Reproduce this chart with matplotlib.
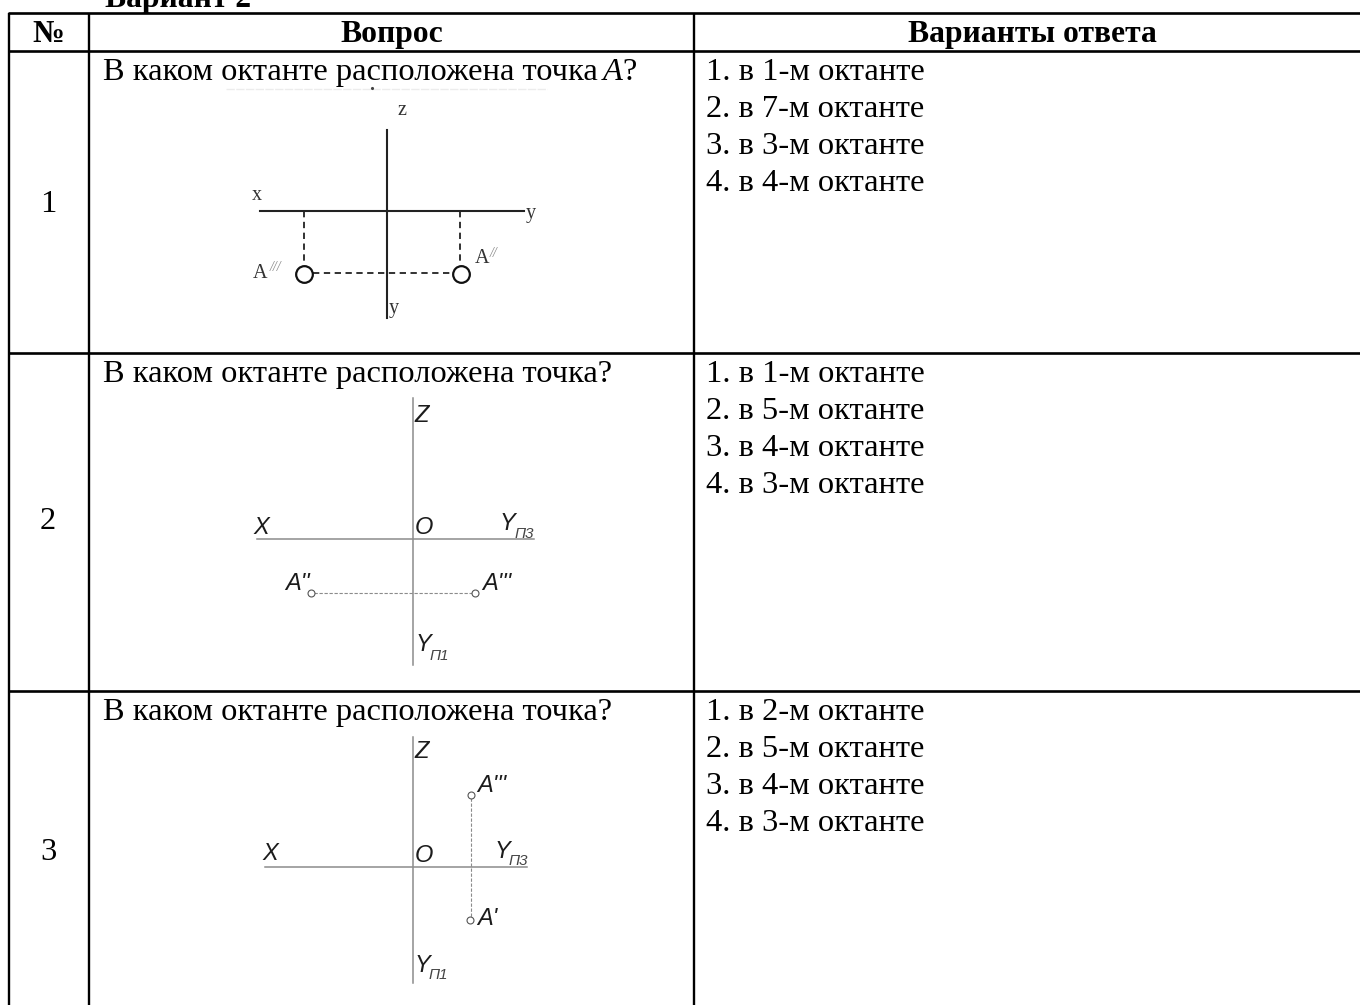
import matplotlib
matplotlib.use("Agg")
import matplotlib.pyplot as plt

W, H = 1360, 1005
plt.rcParams['font.family'] = ['Liberation Serif', 'DejaVu Serif']

title = "Вариант 2"
headers = ["№", "Вопрос", "Варианты ответа"]
numbers = ["1", "2", "3"]
questions = ["В каком октанте расположена точка", "В каком октанте расположена точка?", "В каком октанте расположена точка?"]
answers = [
    ["1. в 1-м октанте", "2. в 7-м октанте", "3. в 3-м октанте", "4. в 4-м октанте"],
    ["1. в 1-м октанте", "2. в 5-м октанте", "3. в 4-м октанте", "4. в 3-м октанте"],
    ["1. в 2-м октанте", "2. в 5-м октанте", "3. в 4-м октанте", "4. в 3-м октанте"],
]
row_lines = [12.5, 50.5, 352.5, 690.5]
col_lines = [9, 89, 694]
row_tops = [51, 353, 691]
row_centers = [203, 520, 851]

fig = plt.figure(figsize=(W/100, H/100), dpi=100)
ax = fig.add_axes([0, 0, 1, 1])
ax.set_xlim(0, W); ax.set_ylim(H, 0); ax.axis('off')
FS = 23.4
FB = 22.8

for y in row_lines:
    ax.plot([col_lines[0] - 1, W], [y, y], color='black', lw=1.9, solid_capstyle='butt')
for x in col_lines:
    ax.plot([x, x], [row_lines[0], H], color='black', lw=1.7, solid_capstyle='butt')

ax.text(105, 7, title, fontsize=FB, fontweight='bold', va='baseline', ha='left')
ax.text(48, 42, headers[0], fontsize=FB, fontweight='bold', va='baseline', ha='center')
ax.text(392, 42, headers[1], fontsize=FB, fontweight='bold', va='baseline', ha='center')
ax.text(1032, 42, headers[2], fontsize=FB, fontweight='bold', va='baseline', ha='center')

for n, q, a, top, c in zip(numbers, questions, answers, row_tops, row_centers):
    ax.text(48, c + 9, n, fontsize=FS, va='baseline', ha='center')
    ax.text(103, top + 29, q, fontsize=FS, va='baseline', ha='left')
    for i, line in enumerate(a):
        ax.text(706, top + 29 + i*36.9, line, fontsize=FS, va='baseline', ha='left')
ax.text(603, row_tops[0] + 29, "A", fontsize=FS, style='italic', va='baseline', ha='left')
ax.text(622, row_tops[0] + 29, "?", fontsize=FS, va='baseline', ha='left')

# faint scan artefact under the first question
artefact_line = ([226, 547], [88.5, 88.5])
artefact_dot = (372, 87.5)
ax.plot(*artefact_line, color='#ececec', lw=1.0, ls=(0, (6, 1)))
ax.plot([artefact_dot[0]], [artefact_dot[1]], '.', ms=2.5, color='#444444')

# diagram 1
d1_axes = [([387, 387], [130, 318]), ([260, 524], [211, 211])]
d1_dash = [([304, 304], [211, 265]), ([460, 460], [211, 265]), ([313, 452], [273, 273])]
d1_pts = [(304, 274), (461, 274)]
d1_labels = [("z", 402, 110), ("x", 257, 195), ("y", 531, 213), ("A", 260, 273), ("A", 482, 258), ("y", 394, 308)]
d1_super = [("///", 275, 267), ("//", 494, 253)]
for xs, ys in d1_axes:
    ax.plot(xs, ys, color='#222222', lw=1.5)
for xs, ys in d1_dash:
    ax.plot(xs, ys, color='#222222', lw=1.3, ls=(0, (3.5, 2.5)))
for x, y in d1_pts:
    ax.plot([x], [y], 'o', ms=12, mfc='white', mec='#111111', mew=1.6, zorder=4)
for s, x, y in d1_labels:
    ax.text(x, y, s, fontsize=14.5, color='#333333', ha='center', va='center')
for s, x, y in d1_super:
    ax.text(x, y, s, fontsize=10, color='#888888', ha='center', va='center', style='italic')

# diagrams 2 and 3
SANS = ['Liberation Sans Narrow', 'Liberation Sans']
d2_axes = [([413, 413], [398, 665]), ([257, 534], [539, 539])]
d2_dash = [([314, 472], [593, 593])]
d2_pts = [(311, 593), (475, 593)]
d2_labels = [("Z", 422, 415), ("X", 261, 527), ("O", 424, 527), ("Y", 507, 523), ("A''", 298, 583), ("A'''", 497, 583), ("Y", 423, 644)]
d2_subs = [("П3", 524, 534), ("П1", 439, 656)]
d3_axes = [([413, 413], [737, 983]), ([265, 527], [867, 867])]
d3_dash = [([471, 471], [798, 917])]
d3_pts = [(471, 795), (470, 920)]
d3_labels = [("Z", 422, 751), ("X", 270, 853), ("O", 424, 855), ("Y", 502, 851), ("A'''", 492, 785), ("A'", 487, 918), ("Y", 422, 965)]
d3_subs = [("П3", 518, 861), ("П1", 438, 975)]
for axs, dash, pts, labels, subs in [(d2_axes, d2_dash, d2_pts, d2_labels, d2_subs),
                                     (d3_axes, d3_dash, d3_pts, d3_labels, d3_subs)]:
    for xs, ys in axs:
        ax.plot(xs, ys, color='#8c8c8c', lw=1.1)
    for xs, ys in dash:
        ax.plot(xs, ys, color='#8c8c8c', lw=0.8, ls=(0, (3, 1.5)))
    for x, y in pts:
        ax.plot([x], [y], 'o', ms=5, mfc='white', mec='#555555', mew=0.8, zorder=4)
    for s, x, y in labels:
        ax.text(x, y, s, fontsize=17, family=SANS, style='italic', color='#1c1c1c', ha='center', va='center')
    for s, x, y in subs:
        ax.text(x, y, s, fontsize=11, family=SANS, style='italic', color='#444444', ha='center', va='center')

fig.savefig('out.png', dpi=100)
